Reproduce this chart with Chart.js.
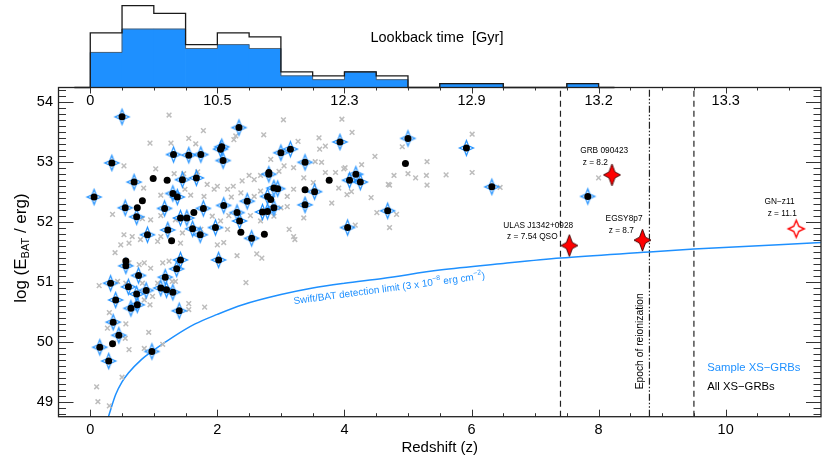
<!DOCTYPE html>
<html>
<head>
<meta charset="utf-8">
<script src="https://cdn.jsdelivr.net/npm/chart.js@4.4.1/dist/chart.umd.min.js"></script>
<style>
  html, body { margin: 0; padding: 0; background: #fff; }
  #wrap { width: 831px; height: 465px; position: relative; }
</style>
</head>
<body>
<div id="wrap"><canvas id="c" width="831" height="465"></canvas></div>
<script>
// axes
const zRange = [-0.5, 11.5];
const eRange = [48.75, 54.25];
const zTicks = [0, 2, 4, 6, 8, 10];
const eTicks = [49, 50, 51, 52, 53, 54];
const lookbackLabels = ['0', '10.5', '12.3', '12.9', '13.2', '13.3'];

// redshift histogram (bins of 0.5 from z = 0)
const binStart = 0, binWidth = 0.5;
const histAll    = [14, 21, 19, 11, 14, 13, 4, 3, 4, 3, 0, 1, 1, 0, 0, 1];
const histSample = [ 9, 15, 15, 10, 11, 10, 3, 2, 4, 2, 0, 1, 1, 0, 0, 1];

// all Swift/BAT GRBs with redshift  [z, log E]
const batGRBs = [
  [1.24,53.79],[1.78,53.53],[1.55,53.40],[0.94,53.32],[1.27,53.32],[1.66,53.31],[2.26,53.38],[2.29,53.44],
  [2.73,53.46],[3.04,53.71],[3.27,53.35],[2.84,53.05],[3.05,52.94],[3.20,52.91],[2.97,52.85],[2.68,52.78],
  [2.50,52.78],[2.58,52.71],[2.39,52.69],[2.25,52.60],[2.16,52.55],[2.00,52.60],[1.95,52.55],[1.84,52.63],
  [1.69,52.84],[1.47,52.81],[1.32,52.81],[1.03,52.89],[0.53,52.94],[0.84,52.57],[1.11,52.45],[1.49,52.55],
  [1.58,52.45],[1.79,52.43],[2.22,52.42],[2.37,52.49],[2.58,52.43],[2.68,52.52],[3.10,52.43],[3.20,52.55],
  [3.00,52.24],[3.10,52.26],[0.35,52.13],[0.82,52.06],[0.95,52.04],[1.11,52.11],[1.34,52.04],[1.92,52.10],
  [2.05,52.02],[2.18,52.11],[2.52,52.11],[2.68,52.02],[2.16,51.88],[1.74,51.88],[1.45,51.82],[1.11,51.76],
  [0.53,51.79],[0.66,51.76],[0.48,51.62],[0.61,51.65],[0.79,51.71],[1.06,51.68],[1.42,51.65],[2.00,51.62],
  [3.20,51.76],[2.89,52.10],[3.13,51.88],[0.39,51.49],[0.61,51.32],[0.77,51.29],[0.85,51.32],[0.95,51.23],
  [1.14,51.32],[1.24,51.35],[0.14,50.94],[0.43,51.01],[0.56,50.98],[0.82,50.98],[1.06,50.98],[1.29,51.01],
  [1.34,51.01],[0.98,50.76],[0.85,50.70],[0.94,50.62],[1.55,50.64],[1.55,50.54],[1.80,50.58],[0.30,50.49],
  [0.27,50.23],[0.56,50.30],[0.92,50.16],[0.61,49.87],[0.85,49.89],[1.14,49.96],[0.50,49.41],[0.10,49.25],
  [0.12,49.00],[0.30,48.93],[0.55,50.06],[2.45,50.99],[2.10,51.66],[2.31,51.44],[2.62,51.47],[0.37,49.98],
  [3.96,53.72],[4.12,53.50],[3.60,53.41],[3.70,53.27],[4.48,53.10],[3.54,53.01],[3.64,53.00],[4.01,52.91],
  [4.27,52.96],[3.36,52.74],[3.70,52.83],[3.86,52.83],[3.51,52.66],[4.69,52.63],[3.80,52.32],[4.04,52.46],
  [4.11,52.51],[4.42,52.41],[3.36,52.07],[4.51,52.16],[4.17,51.95],[3.22,51.71],[2.70,51.40],[3.99,52.89],
  [4.91,53.26],[5.30,53.01],[4.78,52.78],[5.00,52.81],[5.12,52.74],[5.29,52.78],[5.30,52.62],[5.60,52.79],
  [4.71,52.62],[4.82,52.13],[4.71,51.91],[6.01,53.47],[6.01,52.83],[6.45,52.58],[3.61,53.22],[3.91,52.57],
  [8.00,52.74]
];

// XS-GRBs in the sample (blue stars)
const sampleGRBs = [
  [0.50,53.76],[0.34,52.99],[0.06,52.42],[1.31,53.13],[1.55,53.12],[1.74,53.13],[2.07,53.26],[2.05,53.22],
  [2.09,53.03],[2.34,53.58],[3.00,53.16],[3.15,53.22],[3.38,53.00],[0.69,52.67],[1.45,52.71],[1.67,52.74],
  [1.37,52.42],[1.30,52.48],[0.55,52.24],[0.73,52.09],[1.17,52.23],[1.42,52.07],[1.52,52.07],[1.78,52.23],
  [2.10,52.28],[2.31,52.16],[2.35,52.02],[2.47,52.35],[1.97,51.91],[0.90,51.79],[1.22,51.87],[1.61,51.89],
  [1.73,51.79],[2.54,51.73],[2.71,52.17],[2.79,52.18],[2.81,52.80],[2.89,52.24],[3.38,52.29],[3.93,53.34],
  [2.79,52.43],[2.89,52.57],[2.95,52.56],[3.53,52.51],[4.08,52.70],[4.18,52.80],[4.25,52.67],[4.05,51.91],
  [4.68,52.19],[5.00,53.40],[5.92,53.24],[6.32,52.59],[7.83,52.43],[0.56,51.27],[0.76,51.11],[0.32,50.98],
  [0.60,50.92],[0.73,50.80],[0.88,50.86],[1.18,51.08],[1.36,51.22],[1.42,51.37],[2.02,51.37],[0.40,50.70],
  [0.64,50.56],[0.74,50.62],[1.11,50.90],[1.20,50.87],[1.30,50.83],[1.40,50.52],[0.36,50.33],[0.45,50.11],
  [0.15,49.91],[0.29,49.68],[0.97,49.84]
];

// other XS-GRBs (black dots only)
const otherXS = [
  [0.99,52.73],[1.21,52.70],[0.82,52.36],[0.74,52.24],[2.37,51.83],[2.74,51.80],[1.28,51.69],[1.63,52.16],
  [3.76,52.70],[3.38,52.54],[4.96,52.98],[0.56,51.35],[0.35,49.97],[2.84,52.38],[2.81,52.83]
];

// high-z objects
const highZ = [[7.54,51.61],[8.21,52.79],[8.69,51.70]];
const gnz11 = [[11.11,51.89]];

// Swift/BAT limit
const batLimit = [
  [0.286,48.75],[0.40,49.12],[0.50,49.33],[0.60,49.48],[0.80,49.70],[0.97,49.84],[1.30,50.08],[1.65,50.30],
  [2.00,50.46],[2.40,50.62],[3.00,50.79],[3.50,50.90],[4.00,50.98],[4.60,51.06],[5.50,51.20],[6.50,51.31],
  [7.40,51.40],[8.80,51.50],[9.50,51.55],[11.50,51.66]
];

// epoch of reionization
const reionEdges = [7.4, 9.5];
const reionMid = 8.8;

const notes = [
  ['ULAS J1342+0928', 6.50, 51.94], ['z = 7.54 QSO', 6.56, 51.75],
  ['GRB 090423', 7.71, 53.20], ['z = 8.2', 7.75, 53.00],
  ['EGSY8p7', 8.11, 52.06], ['z = 8.7', 8.16, 51.85],
  ['GN\u2212z11', 10.61, 52.35], ['z = 11.1', 10.66, 52.14]
];

const FONT = '"Liberation Sans", Arial, Helvetica, sans-serif';
const BLUE = '#1E90FF';
const HIST_MIN = -84.4; // histogram counts axis, 0 at top of plot

const pts = a => a.map(p => ({ x: p[0], y: p[1] }));

function stepPoints(counts) {
  const out = [{ x: binStart - binWidth / 2, y: 0 }];
  counts.forEach((c, i) => out.push({ x: binStart + i * binWidth, y: c }));
  const end = binStart + counts.length * binWidth;
  out.push({ x: end, y: 0 });
  out.push({ x: end + binWidth / 2, y: 0 });
  return out;
}

function starMarker(ox, oy, inner, fill, stroke, lw) {
  const w = Math.ceil(ox * 2 + lw * 2 + 2), h = Math.ceil(oy * 2 + lw * 2 + 2);
  const cv = document.createElement('canvas');
  cv.width = w; cv.height = h;
  const g = cv.getContext('2d');
  g.translate(w / 2, h / 2);
  g.beginPath();
  for (let k = 0; k < 8; k++) {
    const a = k * Math.PI / 4 - Math.PI / 2;
    const rx = k % 2 ? inner : ox, ry = k % 2 ? inner : oy;
    g.lineTo(rx * Math.cos(a), ry * Math.sin(a));
  }
  g.closePath();
  if (fill) { g.fillStyle = fill; g.fill(); }
  g.lineWidth = lw; g.strokeStyle = stroke; g.stroke();
  return cv;
}

const blueStar = starMarker(7, 7.5, 3, null, BLUE, 1.2);
const redStar = starMarker(8.5, 11, 4.2, '#FF0000', '#3a0000', 0.9);
const openStar = starMarker(8, 8.5, 3.6, '#fff', '#FF0000', 1.4);

function vline(z, dash) {
  return {
    type: 'line', showLine: true, data: [{ x: z, y: eRange[0] }, { x: z, y: eRange[1] }],
    borderColor: '#222', borderWidth: 1.2, borderDash: dash, pointRadius: 0, order: 5
  };
}

// frame, inward ticks and all the text
const decor = {
  id: 'decor',
  afterDatasetsDraw(chart) {
    const { ctx, chartArea: a, scales: { x, y } } = chart;
    ctx.save();
    ctx.strokeStyle = '#333';
    ctx.lineWidth = 1;
    ctx.beginPath();
    for (let v = 0; v <= 11.001; v += 0.5) {
      const px = Math.round(x.getPixelForValue(v)) + 0.5;
      const major = Math.abs(v / 2 - Math.round(v / 2)) < 1e-6;
      const len = major ? 7 : 3.5;
      ctx.moveTo(px, a.bottom); ctx.lineTo(px, a.bottom - len);
      ctx.moveTo(px, a.top); ctx.lineTo(px, a.top + (major ? 6 : 3));
    }
    for (let i = 0; i <= 55; i++) {
      const v = 48.8 + i * 0.1;
      if (v > eRange[1]) break;
      const py = Math.round(y.getPixelForValue(v)) + 0.5;
      const major = Math.abs(v - Math.round(v)) < 1e-6;
      const len = major ? 15 : 7.5;
      ctx.moveTo(a.left, py); ctx.lineTo(a.left + len, py);
      ctx.moveTo(a.right, py); ctx.lineTo(a.right - len, py);
    }
    ctx.stroke();
    ctx.lineWidth = 1.3;
    ctx.strokeStyle = '#222';
    ctx.strokeRect(a.left, a.top, a.right - a.left, a.bottom - a.top);

    // lookback time labels on the top axis
    ctx.fillStyle = '#000';
    ctx.font = '14.5px ' + FONT;
    ctx.textAlign = 'center';
    ctx.textBaseline = 'middle';
    zTicks.forEach((z, i) => ctx.fillText(lookbackLabels[i], x.getPixelForValue(z), a.top + 13));
    ctx.textAlign = 'left';
    ctx.fillText('Lookback time  [Gyr]', x.getPixelForValue(4.41), a.top - 49.5);

    // object labels
    ctx.font = '8.3px ' + FONT;
    notes.forEach(n => ctx.fillText(n[0], x.getPixelForValue(n[1]), y.getPixelForValue(n[2])));

    // legend
    ctx.font = '11.3px ' + FONT;
    ctx.fillStyle = BLUE;
    ctx.fillText('Sample XS\u2212GRBs', x.getPixelForValue(9.71), y.getPixelForValue(49.56));
    ctx.fillStyle = '#000';
    ctx.fillText('All XS\u2212GRBs', x.getPixelForValue(9.71), y.getPixelForValue(49.25));

    // epoch of reionization
    ctx.save();
    ctx.translate(x.getPixelForValue(8.66), y.getPixelForValue(50.01));
    ctx.rotate(-Math.PI / 2);
    ctx.textAlign = 'center';
    ctx.font = '10.3px ' + FONT;
    ctx.fillText('Epoch of reionization', 0, 0);
    ctx.restore();

    // detection limit label along the curve
    ctx.save();
    ctx.translate(x.getPixelForValue(3.20), y.getPixelForValue(50.675));
    ctx.rotate(-7.6 * Math.PI / 180);
    ctx.fillStyle = BLUE;
    let cx = 0;
    const part = (t, size, dy) => {
      ctx.font = size + 'px ' + FONT;
      ctx.fillText(t, cx, dy);
      cx += ctx.measureText(t).width;
    };
    part('Swift/BAT detection limit (3 x 10', 10, 0);
    part('\u22128', 7, -4);
    part(' erg cm', 10, 0);
    part('\u22122', 7, -4);
    part(')', 10, 0);
    ctx.restore();

    // y title with subscript
    ctx.save();
    ctx.translate(21, (a.top + a.bottom) / 2 - 4);
    ctx.rotate(-Math.PI / 2);
    ctx.fillStyle = '#000';
    const segs = [['log (E', 17, 0], ['BAT', 11, 5], [' / erg)', 17, 0]];
    let total = 0;
    segs.forEach(s => { ctx.font = s[1] + 'px ' + FONT; total += ctx.measureText(s[0]).width; });
    cx = -total / 2;
    segs.forEach(s => part(s[0], s[1], s[2]));
    ctx.restore();

    ctx.restore();
  }
};

new Chart(document.getElementById('c'), {
  type: 'scatter',
  data: {
    datasets: [
      { type: 'scatter', data: pts(highZ), pointStyle: redStar, order: 0 },
      { type: 'scatter', data: pts(gnz11), pointStyle: openStar, order: 0 },
      { type: 'scatter', data: pts(sampleGRBs.concat(otherXS)), pointStyle: 'circle', pointRadius: 3.5,
        backgroundColor: '#000', borderColor: '#000', borderWidth: 0, order: 1 },
      { type: 'scatter', data: pts(sampleGRBs), pointStyle: blueStar, order: 2 },
      { type: 'scatter', data: pts(batGRBs), pointStyle: 'crossRot', pointRadius: 3.3,
        borderColor: '#bdbdbd', borderWidth: 1.5, order: 3 },
      { type: 'line', showLine: true, data: pts(batLimit), borderColor: BLUE, borderWidth: 1.5,
        pointRadius: 0, cubicInterpolationMode: 'monotone', order: 4 },
      vline(reionEdges[0], [6, 4]),
      vline(reionEdges[1], [6, 4]),
      vline(reionMid, [7, 2, 1.5, 2, 1.5, 2]),
      { type: 'line', showLine: true, yAxisID: 'yh', data: stepPoints(histAll), stepped: true,
        borderColor: '#1a1a1a', borderWidth: 1.3, pointRadius: 0, clip: false, order: 6 },
      { type: 'line', showLine: true, yAxisID: 'yh', data: stepPoints(histSample), stepped: true,
        borderColor: '#555', borderWidth: 0.8, pointRadius: 0, clip: false, order: 7 },
      { type: 'bar', yAxisID: 'yh', data: histSample.map((c, i) => ({ x: binStart + (i + 0.5) * binWidth, y: c })),
        backgroundColor: BLUE, borderWidth: 0, barPercentage: 1, categoryPercentage: 1, grouped: false,
        clip: false, order: 8 }
    ]
  },
  options: {
    responsive: false,
    animation: false,
    events: [],
    layout: { padding: { top: 87.5, right: 10, left: 0, bottom: 0 } },
    plugins: { legend: { display: false }, tooltip: { enabled: false } },
    scales: {
      x: {
        type: 'linear', position: 'bottom', min: zRange[0], max: zRange[1], offset: false,
        afterBuildTicks: s => { s.ticks = zTicks.map(v => ({ value: v })); },
        afterFit: s => { s.height = 48.3; },
        grid: { display: false, drawTicks: false }, border: { display: false },
        ticks: { color: '#000', padding: 5, maxRotation: 0, font: { family: FONT, size: 14.5 } },
        title: { display: true, text: 'Redshift (z)', color: '#000', padding: { top: 0, bottom: 8 },
          font: { family: FONT, size: 15 } }
      },
      y: {
        type: 'linear', position: 'left', min: eRange[0], max: eRange[1],
        afterBuildTicks: s => { s.ticks = eTicks.map(v => ({ value: v })); },
        afterFit: s => { s.width = 58.5; },
        grid: { display: false, drawTicks: false }, border: { display: false },
        ticks: { color: '#000', padding: 5.5, font: { family: FONT, size: 14.5 } }
      },
      yh: { type: 'linear', display: false, min: HIST_MIN, max: 0 }
    }
  },
  plugins: [decor]
});
</script>
</body>
</html>
